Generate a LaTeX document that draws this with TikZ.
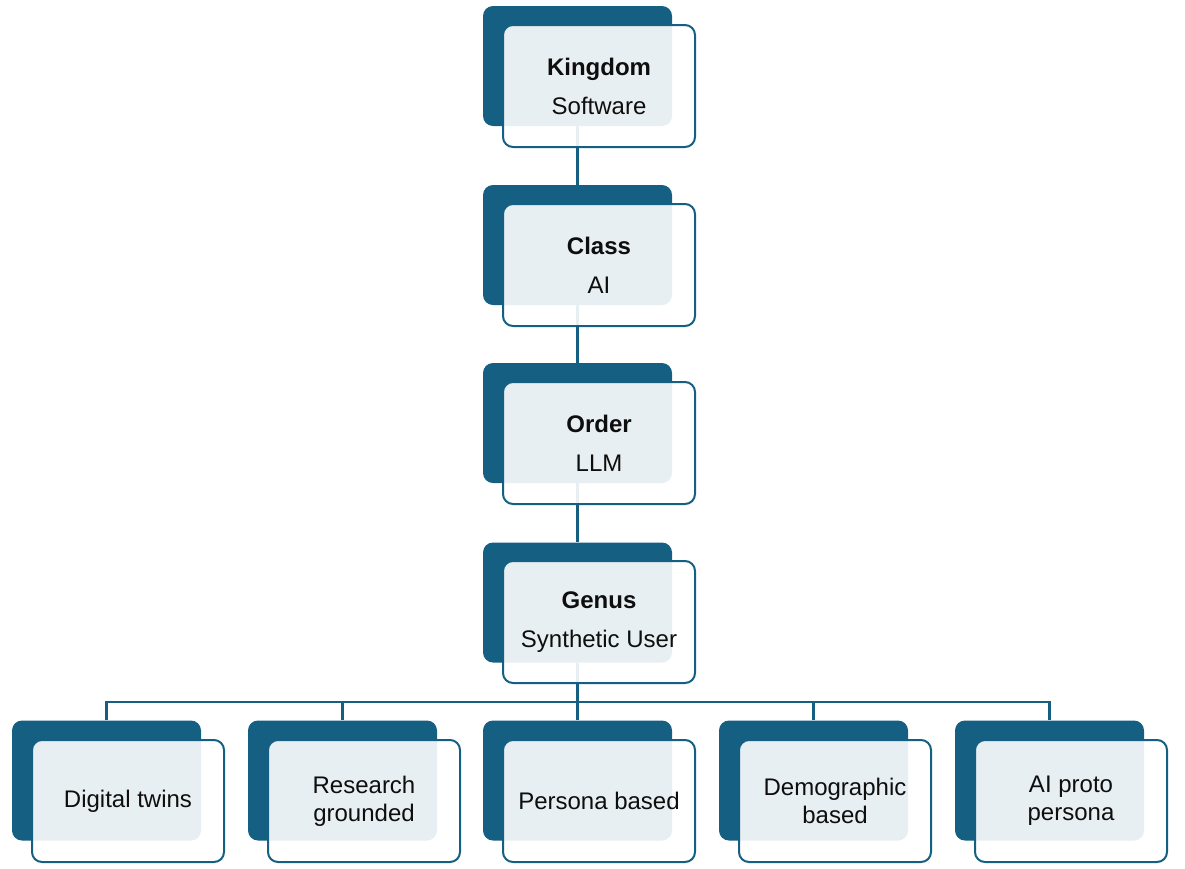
\documentclass[tikz,border=0pt]{standalone}
\usepackage{fontspec}
\setmainfont{Liberation Sans}
\definecolor{acc}{HTML}{156082}
\definecolor{txt}{HTML}{0E0E0E}
\begin{document}
\begin{tikzpicture}[x=1pt,y=-1pt,
  back/.style={rectangle,rounded corners=10pt,fill=acc,minimum width=189pt,minimum height=120pt,inner sep=0pt},
  front/.style={rectangle,rounded corners=10pt,fill=white,fill opacity=0.9,text opacity=1,draw=acc,draw opacity=1,line width=2pt,minimum width=192pt,minimum height=122pt,inner sep=0pt,align=center,text=txt,font=\fontsize{24}{28}\selectfont},
  conn/.style={draw=acc,line width=2.4pt}]
\useasboundingbox (0,0) rectangle (1185,868);
\coordinate (bus) at (0,702);
% back boxes
\node[back] (kd) at (577.5,66) {};
\node[back] (cd) at (577.5,245) {};
\node[back] (od) at (577.5,423) {};
\node[back] (gd) at (577.5,602.5) {};
\node[back] (b1d) at (106.5,780.5) {};
\node[back] (b2d) at (342.5,780.5) {};
\node[back] (b3d) at (577.5,780.5) {};
\node[back] (b4d) at (813.5,780.5) {};
\node[back] (b5d) at (1049.5,780.5) {};
% connectors
\draw[conn] (kd.south) -- (cd.north);
\draw[conn] (cd.south) -- (od.north);
\draw[conn] (od.south) -- (gd.north);
\draw[conn] (gd.south) -- (gd.south |- bus);
\draw[conn] (b1d.north) -- (b1d.north |- bus) -- (b5d.north |- bus) -- (b5d.north);
\draw[conn] (b2d.north) -- (b2d.north |- bus);
\draw[conn] (b3d.north) -- (b3d.north |- bus);
\draw[conn] (b4d.north) -- (b4d.north |- bus);
% front boxes
\node[front] (kf) at (599,86) {\textbf{Kingdom}\\[11pt]Software};
\node[front] (cf) at (599,265) {\textbf{Class}\\[11pt]AI};
\node[front] (of) at (599,443) {\textbf{Order}\\[11pt]LLM};
\node[front] (gf) at (599,622) {\textbf{Genus}\\[11pt]Synthetic User};
\node[front] (b1f) at (128,801) {Digital twins};
\node[front] (b2f) at (364,801) {Research\\grounded};
\node[front] (b3f) at (599,801) {Persona based};
\node[front] (b4f) at (835,801) {Demographic\\based};
\node[front] (b5f) at (1071,801) {AI proto\\persona};
\end{tikzpicture}
\end{document}
